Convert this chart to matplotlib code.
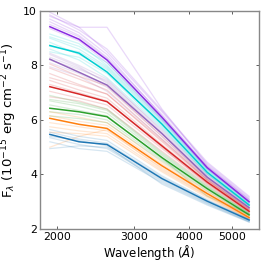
import matplotlib
matplotlib.use("Agg")
from matplotlib import pyplot as plt
from matplotlib.ticker import FixedLocator, FixedFormatter, NullLocator

wave = [1928, 2246, 2600, 3465, 4392, 5468]

colors = ['blueviolet', 'darkturquoise', 'tab:purple', 'tab:red', 'tab:green', 'tab:orange', 'tab:blue']

bold = [
    [9.42, 8.96, 8.20, 6.10, 4.25, 3.00],
    [8.73, 8.45, 7.76, 5.85, 4.08, 2.88],
    [8.23, 7.75, 7.28, 5.50, 3.90, 2.78],
    [7.22, 6.95, 6.67, 5.05, 3.72, 2.65],
    [6.43, 6.30, 6.12, 4.62, 3.48, 2.52],
    [6.06, 5.84, 5.69, 4.32, 3.30, 2.42],
    [5.47, 5.20, 5.10, 3.85, 3.02, 2.33],
]

faint = [
    [[9.95, 9.40, 8.50, 6.30, 4.40, 3.15],
     [9.80, 9.40, 9.40, 6.40, 4.35, 3.10],
     [9.60, 9.10, 8.30, 6.20, 4.30, 3.05],
     [9.35, 8.90, 8.10, 6.00, 4.20, 2.98],
     [9.70, 9.20, 8.40, 6.15, 4.30, 3.08],
     [9.85, 9.30, 8.60, 6.35, 4.45, 3.20],
     [9.50, 9.05, 8.25, 6.05, 4.22, 3.02]],
    [[9.15, 8.80, 8.00, 6.00, 4.18, 2.95],
     [9.00, 8.60, 7.95, 5.95, 4.12, 2.92],
     [8.85, 8.40, 7.85, 5.80, 4.05, 2.90],
     [8.60, 8.20, 7.55, 5.70, 4.00, 2.85],
     [8.50, 8.30, 7.70, 5.75, 4.02, 2.87],
     [9.05, 8.70, 8.10, 6.05, 4.22, 3.00],
     [8.70, 8.50, 7.90, 5.90, 4.15, 2.95]],
    [[8.45, 8.00, 7.50, 5.60, 3.95, 2.82],
     [8.30, 7.90, 7.40, 5.55, 3.92, 2.80],
     [8.10, 7.70, 7.20, 5.40, 3.85, 2.76],
     [7.95, 7.60, 7.05, 5.30, 3.80, 2.72],
     [8.40, 7.95, 7.35, 5.50, 3.90, 2.80],
     [8.20, 7.85, 7.45, 5.65, 4.00, 2.85]],
    [[7.90, 7.50, 7.10, 5.30, 3.82, 2.72],
     [7.70, 7.30, 6.95, 5.20, 3.78, 2.70],
     [7.45, 7.10, 6.80, 5.10, 3.74, 2.67],
     [7.05, 6.80, 6.55, 4.95, 3.68, 2.62],
     [6.85, 6.70, 6.40, 4.85, 3.62, 2.60],
     [8.05, 7.60, 7.25, 5.40, 3.86, 2.75],
     [7.55, 7.25, 6.95, 5.25, 3.80, 2.70],
     [7.30, 7.00, 6.70, 5.00, 3.66, 2.64]],
    [[6.90, 6.65, 6.40, 4.80, 3.58, 2.58],
     [6.70, 6.50, 6.25, 4.70, 3.52, 2.55],
     [6.30, 6.20, 6.00, 4.55, 3.45, 2.50],
     [6.15, 6.05, 5.90, 4.50, 3.40, 2.48],
     [6.55, 6.35, 6.15, 4.60, 3.20, 2.55],
     [6.75, 6.60, 6.35, 4.75, 3.55, 2.57]],
    [[6.30, 6.10, 5.90, 4.45, 3.38, 2.47],
     [5.90, 5.75, 5.60, 4.25, 3.25, 2.40],
     [5.75, 5.60, 5.50, 4.15, 3.20, 2.37],
     [5.00, 5.40, 5.65, 4.20, 3.22, 2.38],
     [6.15, 5.95, 5.80, 4.38, 3.34, 2.45],
     [5.55, 5.50, 5.40, 4.10, 3.15, 2.35]],
    [[5.65, 5.40, 5.25, 3.95, 3.08, 2.36],
     [5.35, 5.10, 4.95, 3.75, 2.95, 2.28],
     [5.20, 4.95, 4.85, 3.70, 2.92, 2.26],
     [5.55, 5.30, 5.15, 3.90, 3.05, 2.35],
     [4.95, 5.05, 5.00, 3.80, 2.98, 2.30],
     [5.40, 5.25, 5.05, 3.65, 2.88, 2.25]],
]

fig = plt.figure(figsize=(2.66, 2.66), dpi=100)
ax = fig.add_axes([0.150, 0.139, 0.824, 0.820])

for c, group in zip(colors, faint):
    for f in group:
        ax.plot(wave, f, color=c, lw=0.9, alpha=0.18)
for c, b in zip(colors, bold):
    ax.plot(wave, b, color=c, lw=1.1)

ax.set_xscale('log')
ax.set_ylim(2, 10)
ax.set_yticks([2, 4, 6, 8, 10])
ax.xaxis.set_major_locator(FixedLocator([2000, 3000, 4000, 5000]))
ax.xaxis.set_major_formatter(FixedFormatter(['2000', '3000', '4000', '5000']))
ax.xaxis.set_minor_locator(NullLocator())

ax.tick_params(direction='in', top=True, right=True, labelsize=7.8, length=2.5,
               width=0.6, color='#444444', pad=2)
for s in ax.spines.values():
    s.set_color('#888888')
    s.set_linewidth(1.0)

ax.set_xlabel(r'Wavelength ($\AA$)', fontsize=8.5, labelpad=1)
ax.set_ylabel(r'F$_\lambda$ (10$^{-15}$ erg cm$^{-2}$ s$^{-1}$)', fontsize=9.5, labelpad=3)

fig.savefig('out.png', dpi=100)
